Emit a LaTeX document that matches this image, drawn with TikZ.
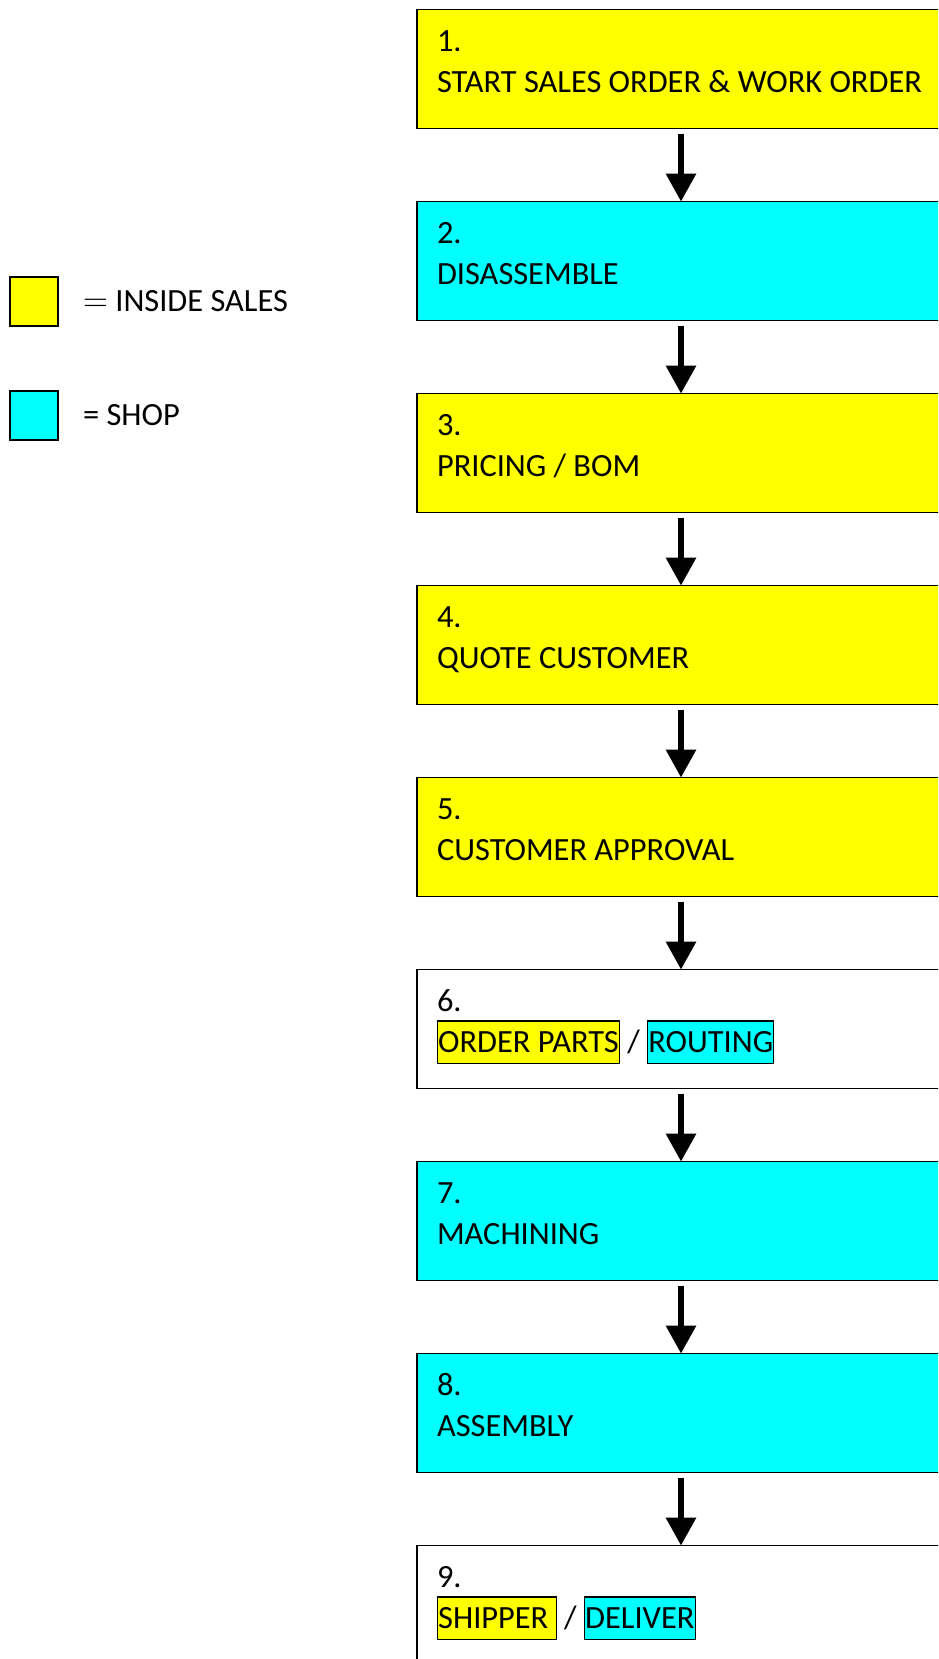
\documentclass[tikz,border=0pt]{standalone}
\usepackage{fontspec}
\setmainfont{Carlito}
\usetikzlibrary{arrows.meta,positioning}

\definecolor{salesyellow}{RGB}{255,255,0}
\definecolor{shopcyan}{RGB}{0,255,255}

\newcommand{\hlbox}[2]{{\setlength{\fboxsep}{0pt}\setlength{\fboxrule}{0.6pt}%
  \fcolorbox{black}{#1}{\rule[-5pt]{0pt}{20.5pt}#2}}}

\tikzset{
  stepbox/.style={rectangle,draw,line width=0.75pt,text width=260pt,
                  inner xsep=10pt,inner ysep=0pt,outer sep=0pt,
                  minimum height=59.5pt,align=flush left,
                  font=\fontsize{16.2}{20.5}\selectfont,
                  execute at begin node=\rule{0pt}{15pt},
                  execute at end node=\rule[-12pt]{0pt}{0pt}},
  sales/.style ={stepbox,fill=salesyellow},
  shop/.style  ={stepbox,fill=shopcyan},
  mixed/.style ={stepbox,fill=white},
  keybox/.style={rectangle,draw,line width=0.75pt,minimum width=24pt,
                 minimum height=24.5pt,inner sep=0pt},
  keytext/.style={inner sep=0pt,font=\fontsize{16.2}{20}\selectfont},
  arr/.style   ={-{Triangle[length=14pt,width=14.5pt]},line width=3pt,
                 shorten <=2.5pt}
}

\begin{document}
\begin{tikzpicture}
  \useasboundingbox (0,0) rectangle (469pt,-829.5pt);
  \clip (0,0) rectangle (469pt,-829.5pt);

  % Legend
  \node (salesKey) [keybox, fill=salesyellow] at (17pt,-150.75pt) {};
  \node (salesLbl) [keytext, right=12pt of salesKey] {$=$ INSIDE SALES};
  \node (shopKey)  [keybox, fill=shopcyan] at (17pt,-207.75pt) {};
  \node (shopLbl)  [keytext, right=12pt of shopKey] {= SHOP};

  % Steps
  \coordinate (axis) at (340.5pt,0);
  \node (s1) [sales, anchor=north west] at (208.5pt,-4.8pt) {1.\\START SALES ORDER \& WORK ORDER};
  \node (s2) [shop,  below=36.5pt of s1] {2.\\DISASSEMBLE};
  \node (s3) [sales, below=36.5pt of s2] {3.\\PRICING / BOM};
  \node (s4) [sales, below=36.5pt of s3] {4.\\QUOTE CUSTOMER};
  \node (s5) [sales, below=36.5pt of s4] {5.\\CUSTOMER APPROVAL};
  \node (s6) [mixed, below=36.5pt of s5] {6.\\\hlbox{salesyellow}{ORDER PARTS} / \hlbox{shopcyan}{ROUTING}};
  \node (s7) [shop,  below=36.5pt of s6] {7.\\MACHINING};
  \node (s8) [shop,  below=36.5pt of s7] {8.\\ASSEMBLY};
  \node (s9) [mixed, below=36.5pt of s8] {9.\\\hlbox{salesyellow}{SHIPPER\ } / \hlbox{shopcyan}{DELIVER}};

  % Arrows
  \foreach \a/\b in {s1/s2,s2/s3,s3/s4,s4/s5,s5/s6,s6/s7,s7/s8,s8/s9}
    \draw [arr] (\a.south -| axis) -- (\b.north -| axis);
\end{tikzpicture}
\end{document}
